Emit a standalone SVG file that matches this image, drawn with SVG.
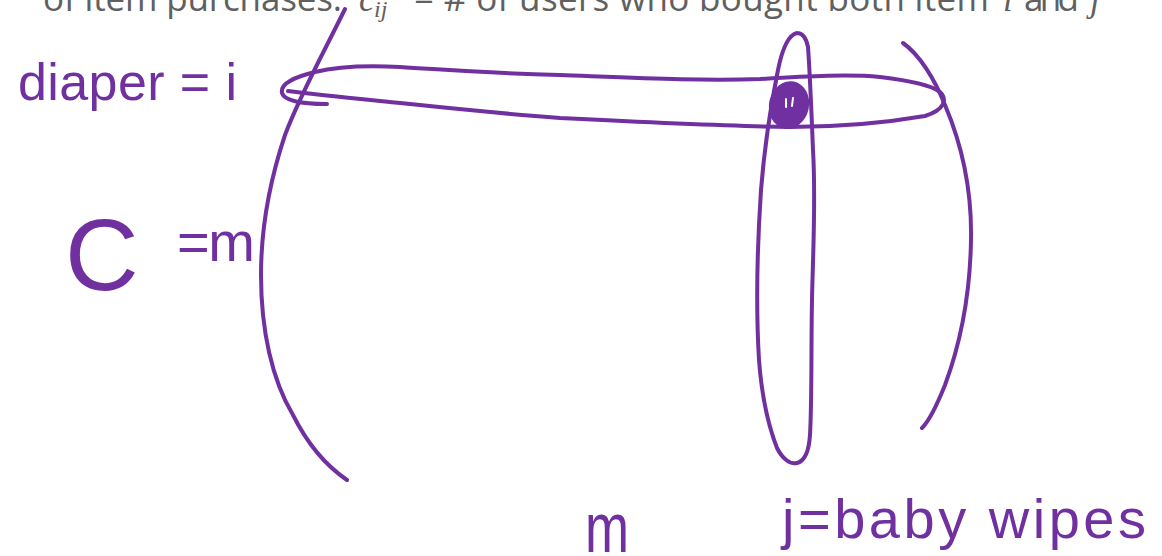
<svg xmlns="http://www.w3.org/2000/svg" width="1162" height="556" viewBox="0 0 1162 556">
<style>
.ink{fill:none;stroke:#7030a0;stroke-width:4;stroke-linecap:round;stroke-linejoin:round}
.hw{fill:#7030a0;font-family:"Liberation Sans",Arial,sans-serif}
.cap{fill:#606060;font-family:"Open Sans","Noto Sans",sans-serif;font-size:35px}
.math{font-family:"Liberation Serif",serif;font-style:italic}
</style>
<rect width="1162" height="556" fill="#ffffff"/>
<g id="caption">
<text class="cap" y="11"><tspan x="43" textLength="299">of item purchases:</tspan><tspan class="math" x="359">c</tspan><tspan class="math" x="374" font-size="24" dy="6">ij</tspan><tspan x="414" dy="-6" textLength="575">= # of users who bought both item</tspan><tspan class="math" x="1003">i</tspan><tspan x="1024" textLength="55">and</tspan><tspan class="math" x="1090">j</tspan></text>
</g>
<g id="matrix">
<path class="ink" d="M345,9 C325,50 300,95 285,135 C270,180 261,230 261,275 C261,330 272,380 293,415 C308,445 325,465 347,480"/>
<path class="ink" d="M903,43 C920,55 935,80 945,105 C962,145 972,190 971,240 C970,300 958,350 945,385 C937,405 930,420 922,428"/>
</g>
<g id="row-i">
<path class="ink" d="M327,104 C305,104 285,102 282,93 C280,83 295,77 315,72 C335,67 360,65 400,67 C450,70 480,73 560,75 C640,78 700,81 760,79 C810,76 850,74 880,77 C905,80 930,84 940,92 C948,100 944,110 925,116 C890,122 850,127 790,127 C720,126 640,122 560,118 C480,112 420,105 380,101 C340,97 310,94 288,91"/>
</g>
<g id="column-j">
<path class="ink" d="M797,33 C788,35 782,50 778,70 C772,100 765,140 761,190 C757,250 756,310 759,360 C762,400 770,430 777,448 C782,458 790,465 797,463 C805,461 809,450 810,435 C812,400 811,350 812,300 C813,250 816,200 813,150 C811,100 809,60 808,47 C806,37 802,33 797,33"/>
</g>
<g id="cell-ij">
<ellipse cx="789" cy="105" rx="20" ry="24" transform="rotate(12 789 105)" fill="#7030a0"/>
<path d="M786,99 L786,107 M793,98 L792,106" stroke="#ffffff" stroke-width="2" stroke-linecap="round" fill="none"/>
</g>
<g id="labels">
<text class="hw" x="18" y="100" font-size="52" textLength="219">diaper = i</text>
<text class="hw" x="65" y="290" font-size="102">C</text>
<text class="hw" x="177" y="261" font-size="56" textLength="78">=m</text>
<text class="hw" x="585" y="552" font-size="70" textLength="44" lengthAdjust="spacingAndGlyphs">m</text>
<text class="hw" x="782" y="538" font-size="56" textLength="364">j=baby wipes</text>
</g>
</svg>
